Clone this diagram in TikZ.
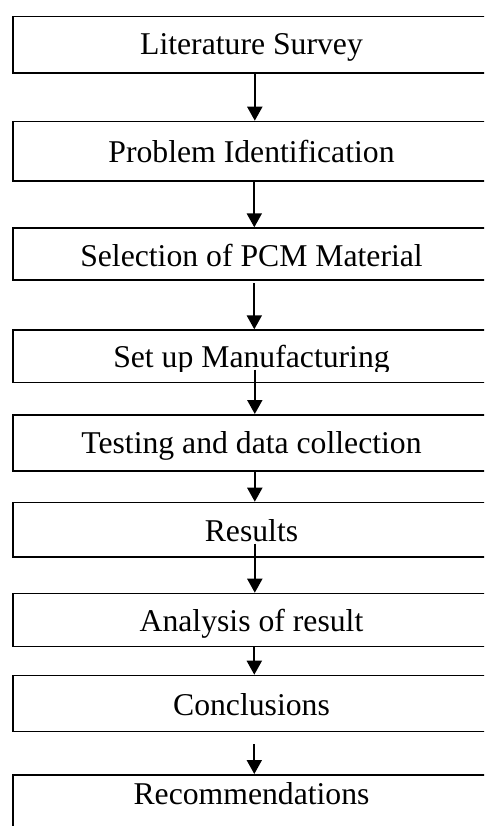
\documentclass[tikz,border=0pt]{standalone}
\usepackage{fontspec}
\setmainfont{Liberation Serif}
\usetikzlibrary{arrows.meta}
\begin{document}
\begin{tikzpicture}[x=1pt,y=-1pt,
  box/.style={draw=black,line width=1.6pt,rectangle,inner sep=0pt,anchor=north west},
  lbl/.style={anchor=base,inner sep=0pt,font=\fontsize{31.7}{38}\selectfont},
  arr/.style={line width=2pt,-{Triangle[width=15pt,length=14pt]}}]
\useasboundingbox (0,0) rectangle (484,826);
\clip (0,0) rectangle (484,826);
% boxes
\node[box,minimum width=479pt,minimum height=56.6pt] (b1) at (12,15.7) {};
\node[box,minimum width=479pt,minimum height=59.6pt] (b2) at (12,120.7) {};
\node[box,minimum width=479pt,minimum height=51.7pt] (b3) at (12,227.3) {};
\node[box,minimum width=479pt,minimum height=52.4pt] (b4) at (12,329.3) {};
\node[box,minimum width=479pt,minimum height=56pt] (b5) at (12,414) {};
\node[box,minimum width=479pt,minimum height=54.3pt] (b6) at (12,501.7) {};
\node[box,minimum width=479pt,minimum height=53pt] (b7) at (12,592.7) {};
\node[box,minimum width=479pt,minimum height=56pt] (b8) at (12,674.7) {};
\node[box,minimum width=479pt,minimum height=80pt] (b9) at (12,774) {};
% labels
\node[lbl] (t1) at (251.5,55) {Literature Survey};
\node[lbl] (t2) at (251.5,162.3) {Problem Identification};
\node[lbl] (t3) at (251.5,266.7) {Selection of PCM Material};
\begin{scope}
\clip (12,329) rectangle (491,371.7);
\node[lbl] (t4) at (251.5,367.3) {Set up Manufacturing};
\end{scope}
\node[lbl] (t5) at (251.5,453.3) {Testing and data collection};
\node[lbl] (t6) at (251.5,541.7) {Results};
\node[lbl] (t7) at (251.5,631.7) {Analysis of result};
\node[lbl] (t8) at (251.5,715) {Conclusions};
\node[lbl] (t9) at (251.5,804) {Recommendations};
% arrows
\draw[arr] ([xshift=2.5pt]b1.south) -- ([xshift=2.5pt]b2.north);
\draw[arr] ([xshift=2pt]b2.south) -- ([xshift=2pt]b3.north);
\draw[arr] ([xshift=2pt,yshift=-2.7pt]b3.south) -- ([xshift=2pt]b4.north);
\draw[arr] ([xshift=2.5pt,yshift=13.7pt]b4.south) -- ([xshift=2.5pt]b5.north);
\draw[arr] ([xshift=2.5pt]b5.south) -- ([xshift=2.5pt]b6.north);
\draw[arr] ([xshift=2.5pt,yshift=14pt]b6.south) -- ([xshift=2.5pt]b7.north);
\draw[arr] ([xshift=2pt]b7.south) -- ([xshift=2pt]b8.north);
\draw[arr] ([xshift=2pt,yshift=-12pt]b8.south) -- ([xshift=2pt]b9.north);
\end{tikzpicture}
\end{document}
